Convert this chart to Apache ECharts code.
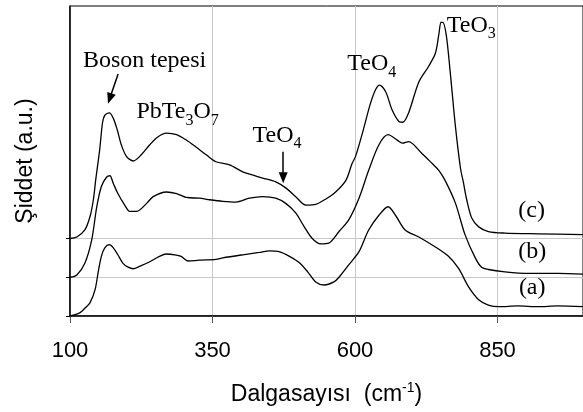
<!DOCTYPE html>
<html>
<head>
<meta charset="utf-8">
<script src="https://cdn.jsdelivr.net/npm/echarts@6/dist/echarts.min.js"></script>
<style>
html, body { margin: 0; padding: 0; background: #fff; }
#chart { width: 583px; height: 412px; }
</style>
</head>
<body>
<div id="chart"></div>
<script>
// wavenumber (cm-1) ticks, and the baselines where each offset curve starts
const xTicks = [100, 350, 600, 850];
const baselineTicks = [0, 0.5, 1];

// [wavenumber, intensity a.u.]
const curveA = [[100,0.00],[117,0.04],[126,0.10],[135,0.17],[144,0.34],[150,0.59],[155,0.77],[161,0.88],[169,0.92],[176,0.88],[184,0.79],[193,0.68],[202,0.63],[211,0.61],[222,0.64],[240,0.70],[257,0.77],[269,0.80],[284,0.79],[295,0.77],[307,0.71],[327,0.72],[356,0.73],[368,0.75],[403,0.79],[432,0.82],[450,0.84],[467,0.83],[485,0.77],[502,0.69],[517,0.57],[531,0.44],[546,0.40],[563,0.44],[572,0.50],[589,0.66],[607,0.83],[624,1.11],[642,1.30],[658,1.41],[671,1.30],[688,1.11],[712,1.02],[741,0.89],[764,0.77],[782,0.61],[799,0.38],[817,0.21],[834,0.14],[852,0.12],[886,0.13],[921,0.12],[956,0.13],[1000,0.12]];
const curveB = [[100,0.50],[112,0.53],[126,0.68],[138,0.98],[147,1.41],[155,1.67],[164,1.79],[170,1.81],[176,1.71],[184,1.58],[196,1.43],[205,1.35],[217,1.35],[234,1.45],[246,1.54],[269,1.60],[287,1.58],[304,1.53],[327,1.52],[345,1.50],[368,1.48],[391,1.47],[415,1.52],[438,1.54],[461,1.52],[479,1.45],[496,1.33],[511,1.15],[525,1.00],[540,0.93],[554,0.94],[572,1.09],[589,1.24],[607,1.52],[624,1.88],[642,2.21],[658,2.34],[674,2.27],[683,2.23],[694,2.25],[717,2.10],[735,1.97],[747,1.88],[758,1.75],[776,1.46],[793,1.05],[811,0.75],[822,0.63],[834,0.60],[863,0.57],[904,0.55],[956,0.55],[1000,0.54]];
const curveC = [[100,1.00],[112,1.02],[126,1.11],[135,1.28],[141,1.50],[145,1.75],[152,2.14],[157,2.49],[161,2.59],[169,2.62],[176,2.55],[183,2.40],[190,2.21],[199,2.06],[211,2.00],[225,2.08],[240,2.21],[254,2.31],[269,2.36],[287,2.34],[304,2.27],[321,2.18],[339,2.08],[356,1.99],[380,1.95],[403,1.86],[420,1.82],[438,1.78],[461,1.73],[479,1.65],[496,1.54],[514,1.43],[531,1.44],[549,1.51],[566,1.60],[584,1.75],[595,1.97],[601,2.06],[613,2.36],[627,2.74],[636,2.92],[643,2.98],[654,2.89],[665,2.66],[677,2.51],[684,2.50],[694,2.62],[712,3.02],[729,3.22],[741,3.39],[747,3.63],[751,3.79],[754,3.79],[760,3.63],[767,3.15],[776,2.46],[785,1.91],[790,1.73],[796,1.50],[805,1.26],[817,1.15],[834,1.09],[863,1.07],[921,1.06],[1000,1.05]];

// annotation text (top-left corner in data coords) and arrows
const labels = [
  { text: 'Boson tepesi', at: [122.7, 3.445] },
  { text: 'PbTe{s|3}O{s|7}', at: [216.6, 2.787] },
  { text: 'TeO{s|4}', at: [420.3, 2.481] },
  { text: 'TeO{s|4}', at: [586.4, 3.406] },
  { text: 'TeO{s|3}', at: [761.1, 3.901] },
  { text: '(c)', at: [886.4, 1.51] },
  { text: '(b)', at: [886.4, 0.987] },
  { text: '(a)', at: [887.5, 0.516] }
];
const arrows = [
  [[184.4, 3.123], [169.7, 2.805]],
  [[474, 2.12], [474, 1.785]]
];
const xTitle = 'Dalgasayısı  (cm{sup|-1})';

const serif = 'Liberation Serif';
const sans = 'Liberation Sans';

function lineSeries(name, data) {
  return {
    name: name,
    type: 'line',
    data: data,
    showSymbol: false,
    smooth: 0.3,
    lineStyle: { color: '#000', width: 1.3 },
    silent: true
  };
}

const chart = echarts.init(document.getElementById('chart'));
const seriesC = lineSeries('c', curveC);
seriesC.markLine = {
  silent: true,
  symbol: ['none', 'triangle'],
  symbolSize: [9, 11],
  label: { show: false },
  lineStyle: { color: '#000', width: 1.5, type: 'solid' },
  data: arrows.map(a => [{ coord: a[0] }, { coord: a[1] }])
};

chart.setOption({
  animation: false,
  backgroundColor: '#fff',
  grid: { left: 70, top: 6, width: 515, height: 310, show: true, borderColor: '#000', borderWidth: 1 },
  xAxis: {
    type: 'value',
    min: 100,
    max: 1000,
    interval: 250,
    axisLine: { lineStyle: { color: '#000', width: 1.5 } },
    axisTick: { customValues: xTicks, length: 7, lineStyle: { color: '#555' } },
    axisLabel: { customValues: xTicks, margin: 24, color: '#000', fontSize: 22, fontFamily: sans },
    splitLine: { lineStyle: { color: '#c8c8c8' } }
  },
  yAxis: {
    type: 'value',
    min: 0,
    max: 4,
    interval: 1,
    name: 'Şiddet (a.u.)',
    nameLocation: 'middle',
    nameGap: 33,
    nameTextStyle: { color: '#000', fontSize: 23, fontFamily: sans },
    axisLine: { show: true, lineStyle: { color: '#000', width: 1.5 } },
    axisTick: { show: true, customValues: baselineTicks, length: 4, lineStyle: { color: '#000' } },
    axisLabel: { show: false },
    splitLine: { lineStyle: { color: '#c8c8c8' } }
  },
  series: [lineSeries('a', curveA), lineSeries('b', curveB), seriesC]
});

const texts = labels.map(l => {
  const p = chart.convertToPixel({ gridIndex: 0 }, l.at);
  return {
    type: 'text',
    x: p[0],
    y: p[1],
    silent: true,
    style: {
      text: l.text,
      fill: '#000',
      fontSize: 24,
      fontFamily: serif,
      lineHeight: 24,
      align: 'left',
      verticalAlign: 'top',
      rich: { s: { fill: '#000', fontSize: 16, fontFamily: serif, height: 7, verticalAlign: 'bottom' } }
    }
  };
});

// x axis title, centred under the axis
const mid = chart.convertToPixel({ gridIndex: 0 }, [550, 0]);
texts.push({
  type: 'text',
  x: mid[0],
  y: mid[1] + 79,
  silent: true,
  style: {
    text: xTitle,
    fill: '#000',
    fontSize: 23,
    fontFamily: sans,
    lineHeight: 23,
    align: 'center',
    verticalAlign: 'middle',
    rich: { sup: { fill: '#000', fontSize: 14, fontFamily: sans, height: 10, verticalAlign: 'top' } }
  }
});

chart.setOption({ graphic: texts });
</script>
</body>
</html>
